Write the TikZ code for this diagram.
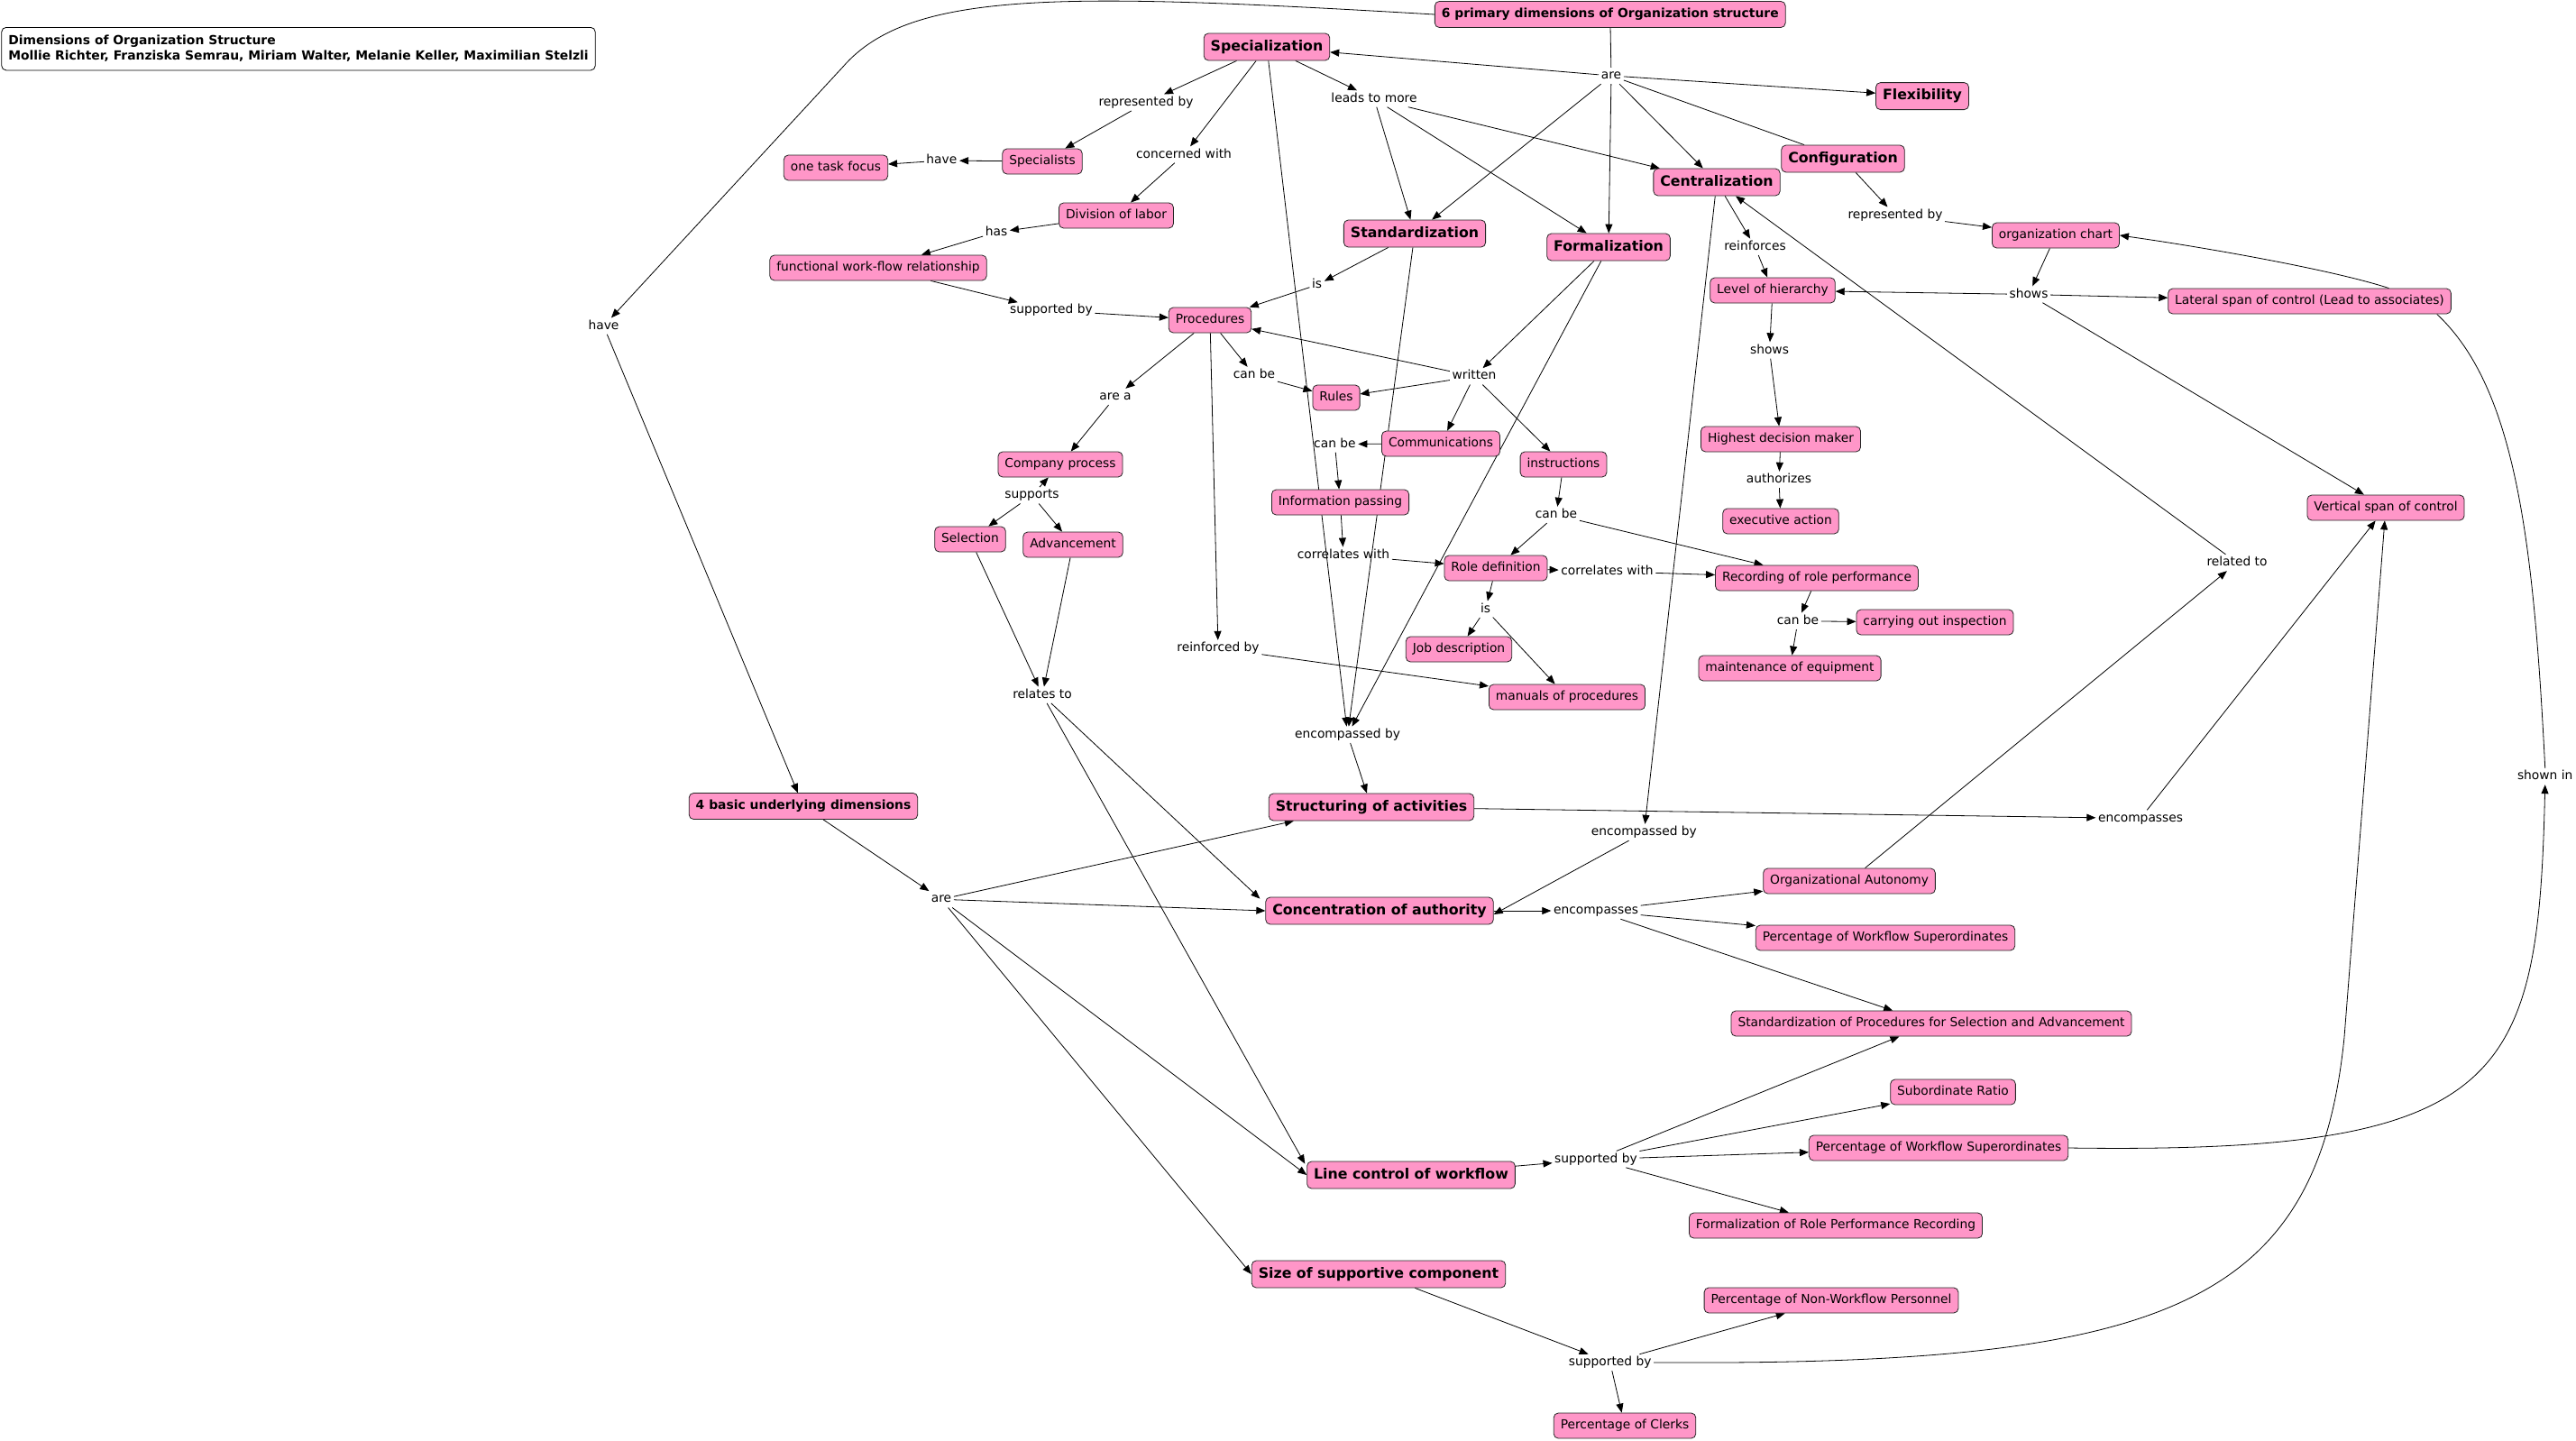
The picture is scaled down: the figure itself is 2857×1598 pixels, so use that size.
\documentclass[tikz,border=0pt]{standalone}
\usepackage{fontspec}
\setmainfont{DejaVu Sans}
\usetikzlibrary{arrows.meta}
\pgfdeclarelayer{bg}
\pgfsetlayers{bg,main}
\definecolor{cpink}{RGB}{255,150,200}
\tikzset{
  concept/.style={draw=black!85, fill=cpink, rounded corners=5pt, line width=0.8pt,
    inner xsep=7.5pt, inner ysep=2pt, minimum height=28pt, text height=10pt, text depth=3pt,
    font=\fontsize{13.8}{16}\selectfont},
  bigc/.style={concept, minimum height=30pt, text height=11.5pt, text depth=3.5pt,
    font=\bfseries\fontsize{15.8}{18}\selectfont},
  boldc/.style={concept, minimum height=29pt, font=\bfseries\fontsize{13.9}{16}\selectfont},
  titlebox/.style={draw=black, fill=white, rounded corners=5pt, line width=0.8pt, align=left,
    inner xsep=7.5pt, minimum height=47.5pt, font=\bfseries\fontsize{13.9}{17}\selectfont},
  lnk/.style={inner sep=2.5pt, text height=10pt, text depth=3pt, font=\fontsize{13.8}{16}\selectfont},
  conn/.style={line width=0.8pt, -{Triangle[length=10pt,width=8pt]}},
  lineonly/.style={line width=0.8pt},
}
\begin{document}
\begin{tikzpicture}[x=1pt,y=-1pt]
\useasboundingbox (0,0) rectangle (2857,1598);

\node[titlebox, anchor=north west] (title) at (1.4,30) {Dimensions of Organization Structure\\Mollie Richter, Franziska Semrau, Miriam Walter, Melanie Keller, Maximilian Stelzli};

% concepts
\node[boldc] (six) at (1785.75,16) {6 primary dimensions of Organization structure};
\node[bigc] (spec) at (1405,52) {Specialization};
\node[bigc] (flex) at (2132,106.6) {Flexibility};
\node[bigc] (config) at (2044,176) {Configuration};
\node[bigc] (central) at (1904,202) {Centralization};
\node[bigc] (stand) at (1569,259) {Standardization};
\node[bigc] (formal) at (1784,274) {Formalization};
\node[concept] (specialists) at (1156,179) {Specialists};
\node[concept] (onetask) at (927,186) {one task focus};
\node[concept] (divlab) at (1238,239) {Division of labor};
\node[concept] (funcwf) at (974,297) {functional work-flow relationship};
\node[concept] (proc) at (1342,355) {Procedures};
\node[concept] (compproc) at (1176,515) {Company process};
\node[concept] (rules) at (1482,441) {Rules};
\node[concept] (comm) at (1598,492) {Communications};
\node[concept] (instr) at (1734,515) {instructions};
\node[concept] (infopass) at (1486.5,557) {Information passing};
\node[concept] (roledef) at (1659,630) {Role definition};
\node[concept] (recrole) at (2015,641) {Recording of role performance};
\node[concept] (jobdesc) at (1618,720) {Job description};
\node[concept] (manuals) at (1738,773) {manuals of procedures};
\node[concept] (carry) at (2146,690) {carrying out inspection};
\node[concept] (maint) at (1985,741) {maintenance of equipment};
\node[concept] (hier) at (1966,322) {Level of hierarchy};
\node[concept] (highest) at (1975,487) {Highest decision maker};
\node[concept] (execact) at (1975,578) {executive action};
\node[concept] (orgchart) at (2280,261) {organization chart};
\node[concept] (lateral) at (2561.5,334) {Lateral span of control (Lead to associates)};
\node[concept] (vertical) at (2646,563) {Vertical span of control};
\node[concept] (selection) at (1076,598) {Selection};
\node[concept] (advance) at (1190,604) {Advancement};
\node[boldc] (fourbasic) at (891,894) {4 basic underlying dimensions};
\node[bigc] (structact) at (1521,895) {Structuring of activities};
\node[bigc] (concauth) at (1530,1010) {Concentration of authority};
\node[concept] (orgauto) at (2051,977) {Organizational Autonomy};
\node[concept] (pwsa) at (2091,1040) {Percentage of Workflow Superordinates};
\node[concept] (stdproc) at (2142,1135) {Standardization of Procedures for Selection and Advancement};
\node[concept] (subratio) at (2166,1211) {Subordinate Ratio};
\node[concept] (pwsb) at (2150,1273) {Percentage of Workflow Superordinates};
\node[bigc] (linectrl) at (1565,1303) {Line control of workflow};
\node[concept] (formrole) at (2036,1359) {Formalization of Role Performance Recording};
\node[bigc] (sizesup) at (1529,1413) {Size of supportive component};
\node[concept] (pnwp) at (2031,1442) {Percentage of Non-Workflow Personnel};
\node[concept] (clerks) at (1802,1581) {Percentage of Clerks};

% linking phrases
\node[lnk] (are1) at (1787,84) {are};
\node[lnk] (have1) at (669.5,361.6) {have};
\node[lnk] (repby1) at (1271,113.7) {represented by};
\node[lnk] (have2) at (1044.4,178) {have};
\node[lnk] (concw) at (1313,171.5) {concerned with};
\node[lnk] (has) at (1105,257.6) {has};
\node[lnk] (supby1) at (1166,344.4) {supported by};
\node[lnk] (canbe1) at (1391,416) {can be};
\node[lnk] (area) at (1237,440) {are a};
\node[lnk] (leads) at (1524,109.5) {leads to more};
\node[lnk] (is1) at (1460.6,316) {is};
\node[lnk] (reinf) at (1946.5,273.8) {reinforces};
\node[lnk] (shows1) at (1962.5,388.5) {shows};
\node[lnk] (written) at (1635,417.4) {written};
\node[lnk] (canbe2) at (1480.4,492.5) {can be};
\node[lnk] (authorizes) at (1973,532) {authorizes};
\node[lnk] (repby2) at (2102,238.7) {represented by};
\node[lnk] (shows2) at (2250,326.5) {shows};
\node[lnk] (supports) at (1144.5,549.3) {supports};
\node[lnk] (reinfby) at (1351,719) {reinforced by};
\node[lnk] (relates) at (1156,770.7) {relates to};
\node[lnk] (are2) at (1044,997.3) {are};
\node[lnk] (canbe3) at (1726,571) {can be};
\node[lnk] (corr1) at (1490,615.7) {correlates with};
\node[lnk] (corr2) at (1782.5,633.7) {correlates with};
\node[lnk] (is2) at (1647.5,675.7) {is};
\node[lnk] (canbe4) at (1994,688.8) {can be};
\node[lnk] (encby1) at (1494.6,814.8) {encompassed by};
\node[lnk] (encby2) at (1823.4,923) {encompassed by};
\node[lnk] (encsa) at (1770,1010) {encompasses};
\node[lnk] (relto) at (2481,624) {related to};
\node[lnk] (encsb) at (2374,907.5) {encompasses};
\node[lnk] (shownin) at (2822.7,861) {shown in};
\node[lnk] (supby2) at (1770,1285.6) {supported by};
\node[lnk] (supby3) at (1785.7,1510.9) {supported by};

\begin{pgfonlayer}{bg}
\draw[lineonly] (six) -- (are1);
\draw[conn] (are1) -- (spec);
\draw[conn] (are1) -- (flex);
\draw[lineonly] (are1) -- (config);
\draw[conn] (are1) -- (central);
\draw[conn] (are1) -- (formal);
\draw[conn] (are1) -- (stand);
\draw[conn] (six.west) .. controls (1180,-8) and (1010,-12) .. (935,74) -- (have1);
\draw[conn] (have1) -- (fourbasic);

\draw[conn] (spec) -- (repby1);
\draw[conn] (repby1) -- (specialists);
\draw[conn] (specialists) -- (have2);
\draw[conn] (have2) -- (onetask);
\draw[conn] (spec) -- (concw);
\draw[conn] (concw) -- (divlab);
\draw[conn] (divlab) -- (has);
\draw[conn] (has) -- (funcwf);
\draw[conn] (funcwf) -- (supby1);
\draw[conn] (supby1) -- (proc);
\draw[conn] (spec) -- (leads);
\draw[conn] (leads) -- (stand);
\draw[conn] (leads) -- (formal);
\draw[conn] (leads) -- (central);
\draw[conn] (spec) -- (encby1);

\draw[conn] (stand) -- (is1);
\draw[conn] (is1) -- (proc);
\draw[conn] (stand) -- (encby1);
\draw[conn] (proc) -- (area);
\draw[conn] (area) -- (compproc);
\draw[conn] (proc) -- (canbe1);
\draw[conn] (canbe1) -- (rules);
\draw[conn] (proc) -- (reinfby);
\draw[conn] (reinfby) -- (manuals);

\draw[conn] (formal) -- (written);
\draw[conn] (written) -- (proc);
\draw[conn] (written) -- (rules);
\draw[conn] (written) -- (comm);
\draw[conn] (written) -- (instr);
\draw[conn] (formal) -- (encby1);
\draw[conn] (comm) -- (canbe2);
\draw[conn] (canbe2) -- (infopass);
\draw[conn] (infopass) -- (corr1);
\draw[conn] (corr1) -- (roledef);
\draw[conn] (instr) -- (canbe3);
\draw[conn] (canbe3) -- (roledef);
\draw[conn] (canbe3) -- (recrole);
\draw[conn] (roledef) -- (corr2);
\draw[conn] (corr2) -- (recrole);
\draw[conn] (roledef) -- (is2);
\draw[conn] (is2) -- (jobdesc);
\draw[conn] (is2) -- (manuals);
\draw[conn] (recrole) -- (canbe4);
\draw[conn] (canbe4) -- (carry);
\draw[conn] (canbe4) -- (maint);

\draw[conn] (central) -- (reinf);
\draw[conn] (reinf) -- (hier);
\draw[conn] (hier) -- (shows1);
\draw[conn] (shows1) -- (highest);
\draw[conn] (highest) -- (authorizes);
\draw[conn] (authorizes) -- (execact);
\draw[conn] (central) -- (encby2);
\draw[conn] (encby2) -- ([yshift=-4pt]concauth.east);
\draw[conn] (relto) -- (central);
\draw[conn] (orgauto) -- (relto);

\draw[conn] (config) -- (repby2);
\draw[conn] (repby2) -- (orgchart);
\draw[conn] (orgchart) -- (shows2);
\draw[conn] (shows2) -- (hier);
\draw[conn] (shows2) -- (lateral);
\draw[conn] (shows2) -- (vertical);
\draw[conn] ([xshift=88pt]lateral.north) .. controls (2590,300) and (2450,275) .. (orgchart.east);
\draw[lineonly] ([xshift=-16pt]lateral.south east) .. controls (2790,430) and (2810,600) .. (shownin.north);
\draw[conn] (pwsb.east) .. controls (2780,1280) and (2815,1200) .. (shownin.south);

\draw[conn] (encby1) -- (structact);
\draw[conn] (structact) -- (encsb);
\draw[conn] (encsb) -- (vertical);
\draw[conn] (supby3.east) .. controls (2400,1515) and (2570,1450) .. (2600,1150) -- (vertical);

\draw[conn] (fourbasic) -- (are2);
\draw[conn] (are2) -- ([xshift=28pt]structact.south west);
\draw[conn] (are2) -- (concauth.west);
\draw[conn] (are2) -- (linectrl.west);
\draw[conn] (are2) -- (sizesup.west);
\draw[conn] (supports) -- (compproc);
\draw[conn] (supports) -- (selection);
\draw[conn] (supports) -- (advance);
\draw[conn] (selection) -- (relates);
\draw[conn] (advance) -- (relates);
\draw[conn] (relates) -- ([shift={(-6pt,-2pt)}]concauth.north west);
\draw[conn] (relates) -- ([shift={(-2pt,-3pt)}]linectrl.north west);

\draw[conn] (concauth) -- (encsa);
\draw[conn] (encsa) -- (orgauto);
\draw[conn] (encsa) -- (pwsa);
\draw[conn] (encsa) -- (stdproc);
\draw[conn] (linectrl) -- (supby2);
\draw[conn] (supby2) -- (stdproc);
\draw[conn] (supby2) -- (subratio);
\draw[conn] (supby2) -- (pwsb);
\draw[conn] (supby2) -- (formrole);
\draw[conn] (sizesup) -- (supby3);
\draw[conn] (supby3) -- (pnwp);
\draw[conn] (supby3) -- (clerks);
\end{pgfonlayer}
\end{tikzpicture}
\end{document}
